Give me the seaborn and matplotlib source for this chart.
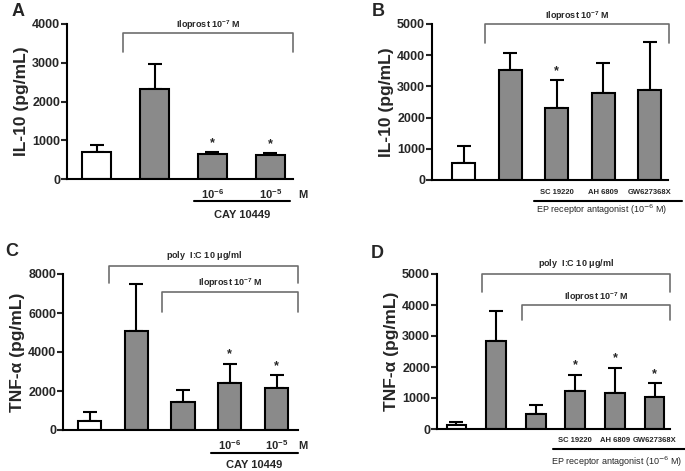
import matplotlib
matplotlib.use('Agg')
import matplotlib.pyplot as plt
import matplotlib.transforms as mtransforms
import numpy as np
import seaborn as sns

# panel data (means and upper SEM)
a_vals = [700, 2330, 650, 620]
a_err = [170, 640, 40, 50]
b_vals = [530, 3520, 2300, 2780, 2900]
b_err = [570, 540, 900, 960, 1520]
c_vals = [480, 5100, 1420, 2400, 2150]
c_err = [450, 2400, 610, 1000, 650]
d_vals = [130, 2830, 470, 1210, 1170, 1030]
d_err = [80, 980, 290, 540, 810, 450]

a_stars = [2, 3]
b_stars = [2]
c_stars = [3, 4]
d_stars = [3, 4, 5]

cay_labels = ['10$^{-6}$', '10$^{-5}$']
ep_labels = ['SC 19220', 'AH 6809', 'GW627368X']

WHITE = 'white'
GRAY = '#8a8a8a'
BRACKET = '#6e6e6e'

sns.set_style('ticks')
plt.rcParams['font.family'] = ['Liberation Sans', 'DejaVu Sans']
plt.rcParams['mathtext.fontset'] = 'custom'
plt.rcParams['mathtext.rm'] = 'Liberation Sans:bold'
plt.rcParams['mathtext.it'] = 'Liberation Sans:bold'
plt.rcParams['mathtext.bf'] = 'Liberation Sans:bold'

W, H = 685, 471
fig = plt.figure(figsize=(W / 100, H / 100), dpi=100)


def px_axes(left, right, top, bottom):
    return fig.add_axes([left / W, (H - bottom) / H, (right - left) / W, (bottom - top) / H])


def draw_bars(ax, vals, err, ymax, step, xlim, ylabel, stars):
    n = len(vals)
    cats = [str(i) for i in range(n)]
    colors = [WHITE] + [GRAY] * (n - 1)
    sns.barplot(x=cats, y=vals, hue=cats, palette=colors, legend=False,
                width=0.5, edgecolor='black', linewidth=1.5, errorbar=None,
                ax=ax, zorder=2)
    ax.errorbar(range(n), vals, yerr=[np.zeros(n), err], fmt='none',
                ecolor='black', elinewidth=1.5, capsize=5, capthick=1.5, zorder=1)
    for i in stars:
        ax.text(i, vals[i] + err[i] + ymax * 0.02, '*', ha='center', va='bottom',
                fontsize=9, fontweight='bold')
    ax.set_xlim(*xlim)
    ax.set_ylim(0, ymax)
    ax.set_yticks(np.arange(0, ymax + 1, step))
    ax.set_xticks([])
    ax.set_xlabel('')
    ax.set_ylabel(ylabel, fontsize=12.5, fontweight='bold', labelpad=2)
    for lab in ax.get_yticklabels():
        lab.set_fontweight('bold')
        lab.set_fontsize(9)
    ax.tick_params(axis='y', length=4, width=1.5, pad=1)
    for s in ['top', 'right']:
        ax.spines[s].set_visible(False)
    for s in ['left', 'bottom']:
        ax.spines[s].set_linewidth(1.5)
        ax.spines[s].set_color('black')


def bracket(ax, x0, x1, yh, yl, text, ty):
    tr = mtransforms.blended_transform_factory(ax.transData, ax.transAxes)
    ax.plot([x0, x0, x1, x1], [yl, yh, yh, yl], color=BRACKET, lw=1.2,
            transform=tr, clip_on=False)
    ax.text((x0 + x1) / 2, ty, text, transform=tr, ha='center', va='center',
            fontsize=6.5, fontweight='bold')


def underline(ax, x0, x1, y, text, ty, size, weight):
    tr = mtransforms.blended_transform_factory(ax.transData, ax.transAxes)
    ax.plot([x0, x1], [y, y], color='black', lw=1.5, transform=tr, clip_on=False)
    ax.text((x0 + x1) / 2, ty, text, transform=tr, ha='center', va='center',
            fontsize=size, fontweight=weight)


def below_labels(ax, xs, labels, y, size):
    tr = mtransforms.blended_transform_factory(ax.transData, ax.transAxes)
    for x, lab in zip(xs, labels):
        ax.text(x, y, lab, transform=tr, ha='center', va='center',
                fontsize=size, fontweight='bold')


ilo = 'Iloprost 10$^{-7}$ M'
poly = 'poly  I:C 10 $\\mu$g/ml'

# A
ax = px_axes(67, 293, 24, 179)
draw_bars(ax, a_vals, a_err, 4000, 1000, (-0.51, 3.39), 'IL-10 (pg/mL)', a_stars)
bracket(ax, 0.46, 3.39, 0.942, 0.819, ilo, 0.99)
below_labels(ax, [2, 3], cay_labels, -0.10, 8)
below_labels(ax, [3.56], ['M'], -0.10, 8)
underline(ax, 1.68, 3.34, -0.142, 'CAY 10449', -0.235, 8, 'bold')

# B
ax = px_axes(432, 668, 24, 180)
draw_bars(ax, b_vals, b_err, 5000, 1000, (-0.68, 4.39), 'IL-10 (pg/mL)', b_stars)
bracket(ax, 0.46, 4.41, 1.0, 0.878, ilo, 1.05)
below_labels(ax, [2, 3, 4], ep_labels, -0.083, 5.5)
underline(ax, 1.51, 4.69, -0.135, '', -0.19, 6, 'normal')
ax.text(2.97, -0.19, 'EP receptor antagonist (10$^{-6}$ M)', ha='center', va='center',
        fontsize=6.5, transform=mtransforms.blended_transform_factory(ax.transData, ax.transAxes),
        math_fontfamily='dejavusans')

# C
ax = px_axes(63, 298, 274, 430)
draw_bars(ax, c_vals, c_err, 8000, 2000, (-0.57, 4.46), 'TNF-\u03b1 (pg/mL)', c_stars)
bracket(ax, 0.42, 4.46, 1.051, 0.942, poly, 1.12)
bracket(ax, 1.55, 4.46, 0.885, 0.756, ilo, 0.94)
below_labels(ax, [3, 4], cay_labels, -0.10, 8)
below_labels(ax, [4.57], ['M'], -0.10, 8)
underline(ax, 2.6, 4.46, -0.147, 'CAY 10449', -0.225, 8, 'bold')

# D
ax = px_axes(437, 670, 274, 429)
draw_bars(ax, d_vals, d_err, 5000, 1000, (-0.49, 5.39), 'TNF-\u03b1 (pg/mL)', d_stars)
bracket(ax, 0.64, 5.39, 1.0, 0.884, poly, 1.065)
bracket(ax, 1.65, 5.39, 0.80, 0.703, ilo, 0.85)
below_labels(ax, [3, 4, 5], ep_labels, -0.077, 5.5)
underline(ax, 2.44, 5.77, -0.129, '', -0.2, 6, 'normal')
ax.text(4.05, -0.213, 'EP receptor antagonist (10$^{-6}$ M)', ha='center', va='center',
        fontsize=6.5, transform=mtransforms.blended_transform_factory(ax.transData, ax.transAxes),
        math_fontfamily='dejavusans')

# panel letters
for letter, x, y in [('A', 18, 12), ('B', 378, 12), ('C', 12, 252), ('D', 377, 253)]:
    fig.text(x / W, 1 - y / H, letter, fontsize=13, fontweight='bold', ha='center', va='center')

fig.savefig('out.png', dpi=100)
